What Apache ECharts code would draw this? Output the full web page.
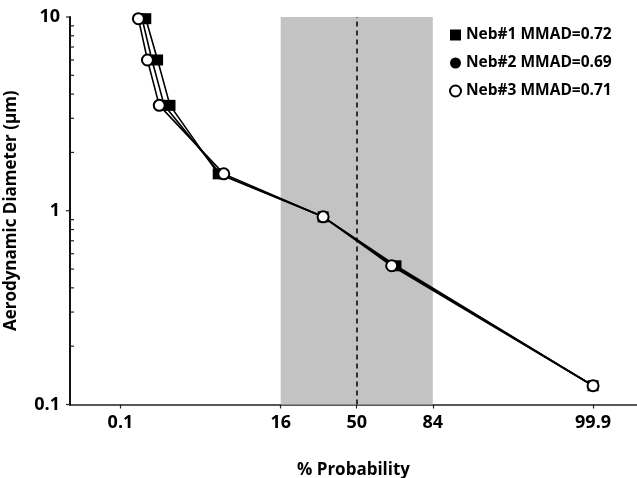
<!DOCTYPE html>
<html>
<head>
<meta charset="utf-8">
<script src="https://cdn.jsdelivr.net/npm/echarts@6/dist/echarts.min.js"></script>
<style>html,body{margin:0;padding:0;background:#fff;}#c{width:637px;height:478px;}</style>
</head>
<body>
<div id="c"></div>
<script>
// ---- data (cumulative % probability vs aerodynamic diameter, µm) ----
const diameters = [9.8, 6.0, 3.5, 1.55, 0.93, 0.52, 0.125];
const neb1Prob = [0.29, 0.46, 0.73, 3.5, 33, 69.6, 99.9];
const neb2Prob = [0.25, 0.37, 0.59, 3.7, 33, 68.7, 99.9];
const neb3Prob = [0.215, 0.31, 0.49, 4.1, 33, 67.6, 99.9];
const seriesNames = ['Neb#1 MMAD=0.72', 'Neb#2 MMAD=0.69', 'Neb#3 MMAD=0.71'];
const xTickLabels = ['0.1', '16', '50', '84', '99.9'];
const bandRange = ['16', '84'];
const medianLine = '50';
const yMajorTicks = [0.1, 1, 10];
const yMinorTicks = [0.2, 0.3, 0.4, 0.5, 0.6, 0.7, 0.8, 0.9, 2, 3, 4, 5, 6, 7, 8, 9];

// inverse standard normal CDF (probit) for a probability-scale axis
function probit(p) {
  const a = [-3.969683028665376e+01, 2.209460984245205e+02, -2.759285104469687e+02, 1.383577518672690e+02, -3.066479806614716e+01, 2.506628277459239e+00];
  const b = [-5.447609879822406e+01, 1.615858368580409e+02, -1.556989798598866e+02, 6.680131188771972e+01, -1.328068155288572e+01];
  const c = [-7.784894002430293e-03, -3.223964580411365e-01, -2.400758277161838e+00, -2.549732539343734e+00, 4.374664141464968e+00, 2.938163982698783e+00];
  const d = [7.784695709041462e-03, 3.224671290700398e-01, 2.445134137142996e+00, 3.754408661907416e+00];
  const pl = 0.02425, ph = 1 - pl;
  let q, r;
  if (p < pl) { q = Math.sqrt(-2 * Math.log(p)); return (((((c[0]*q+c[1])*q+c[2])*q+c[3])*q+c[4])*q+c[5]) / ((((d[0]*q+d[1])*q+d[2])*q+d[3])*q+1); }
  if (p <= ph) { q = p - 0.5; r = q*q; return (((((a[0]*r+a[1])*r+a[2])*r+a[3])*r+a[4])*r+a[5])*q / (((((b[0]*r+b[1])*r+b[2])*r+b[3])*r+b[4])*r+1); }
  q = Math.sqrt(-2 * Math.log(1 - p)); return -(((((c[0]*q+c[1])*q+c[2])*q+c[3])*q+c[4])*q+c[5]) / ((((d[0]*q+d[1])*q+d[2])*q+d[3])*q+1);
}
const z = pct => probit(parseFloat(pct) / 100);

const X_MIN = -3.75, X_MAX = 3.665;
const tickZ = xTickLabels.map(z);
const labelFor = v => { let best = 0; tickZ.forEach((t, i) => { if (Math.abs(t - v) < Math.abs(tickZ[best] - v)) best = i; }); return xTickLabels[best]; };

const FONT = '"Open Sans", "Liberation Sans", sans-serif';
const toPairs = probs => probs.map((p, i) => [z(p), diameters[i]]);

const lineStyle = { color: '#000', width: 1.6 };
const chart = echarts.init(document.getElementById('c'), null, { renderer: 'canvas' });
chart.setOption({
  animation: false,
  backgroundColor: '#fff',
  grid: { left: 70, right: 0, top: 17, bottom: 73.5, outerBoundsMode: 'none', containLabel: false },
  legend: {
    orient: 'vertical', left: 444, top: 22,
    itemWidth: 11, itemHeight: 11, itemGap: 12,
    textStyle: { fontFamily: FONT, fontWeight: 'bold', fontSize: 15.5, color: '#000', lineHeight: 16 },
    data: [
      { name: seriesNames[0], icon: 'rect', itemStyle: { color: '#000', borderWidth: 0 } },
      { name: seriesNames[1], icon: 'circle', itemStyle: { color: '#000', borderWidth: 0 } },
      { name: seriesNames[2], icon: 'circle', itemStyle: { color: '#fff', borderColor: '#000', borderWidth: 2 } }
    ]
  },
  xAxis: {
    type: 'value', min: X_MIN, max: X_MAX,
    name: '% Probability', nameLocation: 'middle', nameGap: 57,
    nameTextStyle: { fontFamily: FONT, fontWeight: 'bold', fontSize: 17, color: '#000' },
    splitLine: { show: false },
    axisLine: { show: true, onZero: false, lineStyle: { color: '#222', width: 1.5 } },
    axisTick: { show: true, length: 4, customValues: tickZ, lineStyle: { color: '#222', width: 1.2 } },
    axisLabel: { customValues: tickZ, formatter: v => labelFor(v), margin: 9,
      fontFamily: FONT, fontWeight: 'bold', fontSize: 18, color: '#000' }
  },
  yAxis: {
    type: 'log', logBase: 10, min: 0.1, max: 10, position: 'left',
    name: 'Aerodynamic Diameter (\u03bcm)', nameLocation: 'middle', nameGap: 50,
    nameTextStyle: { fontFamily: FONT, fontWeight: 'bold', fontSize: 17, color: '#000' },
    splitLine: { show: false },
    axisLine: { show: true, onZero: false, lineStyle: { color: '#000', width: 2 } },
    axisTick: { show: false },
    axisLabel: { formatter: v => String(+v.toPrecision(3)), margin: 10,
      fontFamily: FONT, fontWeight: 'bold', fontSize: 18, color: '#000' }
  },
  series: [
    {
      type: 'line', name: '__band', data: [],
      silent: true, clip: false,
      markArea: { silent: true, itemStyle: { color: '#c3c3c3' },
        data: [[{ xAxis: z(bandRange[0]) }, { xAxis: z(bandRange[1]) }]] },
      markLine: { silent: true, symbol: 'none', label: { show: false },
        lineStyle: { color: '#000', type: [5, 4], width: 1.5 },
        data: [ { xAxis: z(medianLine) } ] }
    },
    {
      type: 'custom', name: '__yaxis', silent: true, clip: false, z: 6,
      data: [[X_MIN, yMajorTicks[0], yMajorTicks[yMajorTicks.length - 1]]],
      renderItem: (params, api) => {
        const p0 = api.coord([api.value(0), api.value(1)]);
        const p1 = api.coord([api.value(0), api.value(2)]);
        return { type: 'rect', shape: { x: p0[0] - 1, y: p1[1], width: 2, height: p0[1] - p1[1] + 1 },
          style: { fill: '#111' } };
      }
    },
    {
      type: 'custom', name: '__ticks', silent: true, clip: false, z: 6,
      data: yMinorTicks.map(v => [X_MIN, v, 1]).concat(yMajorTicks.map(v => [X_MIN, v, -1])),
      renderItem: (params, api) => {
        const p = api.coord([api.value(0), api.value(1)]);
        const dir = api.value(2);
        return { type: 'line', shape: { x1: p[0], y1: p[1], x2: p[0] + 4 * dir, y2: p[1] },
          style: { stroke: '#222', lineWidth: 1.2 } };
      }
    },
    { type: 'line', name: seriesNames[0], data: toPairs(neb1Prob), symbol: 'rect', symbolSize: 11,
      lineStyle, itemStyle: { color: '#000' }, z: 3 },
    { type: 'line', name: seriesNames[1], data: toPairs(neb2Prob), symbol: 'circle', symbolSize: 11,
      lineStyle, itemStyle: { color: '#000' }, z: 4 },
    { type: 'line', name: seriesNames[2], data: toPairs(neb3Prob), symbol: 'circle', symbolSize: 11,
      lineStyle, itemStyle: { color: '#fff', borderColor: '#000', borderWidth: 2 }, z: 5 }
  ]
});
</script>
</body>
</html>
